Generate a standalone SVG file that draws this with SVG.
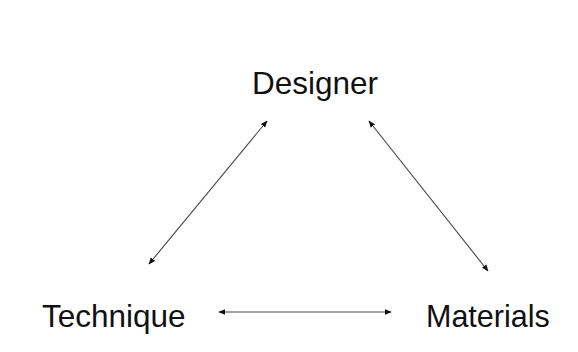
<svg xmlns="http://www.w3.org/2000/svg" width="578" height="352" viewBox="0 0 578 352">
<style>
.lbl{font-family:"Liberation Sans",Arial,sans-serif;font-size:31.5px;fill:#111}
.con{stroke:#444;stroke-width:1.1;fill:none;marker-start:url(#ah);marker-end:url(#ah)}
</style>
<defs>
<marker id="ah" viewBox="0 0 10 10" refX="9" refY="5" markerWidth="7" markerHeight="7" markerUnits="userSpaceOnUse" orient="auto-start-reverse">
<path d="M0,1 L10,5 L0,9 z" fill="#111"/>
</marker>
</defs>
<rect width="578" height="352" fill="#fff"/>
<g id="designer"><text class="lbl" x="252" y="94">Designer</text></g>
<g id="technique"><text class="lbl" x="42" y="327">Technique</text></g>
<g id="materials"><text class="lbl" x="426" y="327" style="font-size:30.5px">Materials</text></g>
<g id="connectors">
<line class="con" x1="149" y1="264" x2="267" y2="121"/>
<line class="con" x1="369" y1="121" x2="488" y2="271"/>
<line class="con" x1="219" y1="312" x2="391" y2="312"/>
</g>
</svg>
